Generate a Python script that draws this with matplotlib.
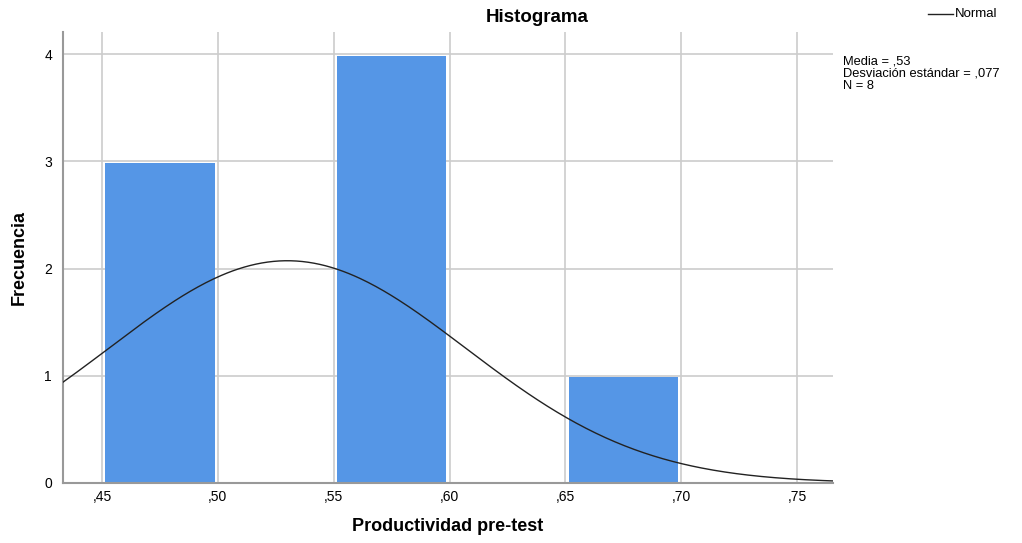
import numpy as np
import matplotlib
matplotlib.use("Agg")
import matplotlib.pyplot as plt

plt.rcParams['font.family'] = ['Liberation Sans', 'DejaVu Sans']

# Data
bin_edges = [0.45, 0.50, 0.55, 0.60, 0.65, 0.70]
counts = [3, 0, 4, 0, 1]
mean = 0.53
sd = 0.077
n = 8
x_ticks = [0.45, 0.50, 0.55, 0.60, 0.65, 0.70, 0.75]
x_tick_labels = [",45", ",50", ",55", ",60", ",65", ",70", ",75"]
y_ticks = [0, 1, 2, 3, 4]

fig = plt.figure(figsize=(10.22, 5.43), dpi=100)
ax = fig.add_axes([63/1022, 1-483/543, (833-63)/1022, (483-32)/543])

xmin, xmax = 0.4332, 0.7655
ax.set_xlim(xmin, xmax)
ax.set_ylim(0, (483-32)/107.25)

ax.set_axisbelow(True)
ax.grid(True, color='#cccccc', linewidth=1.2)

inset = 0.0014
lefts = bin_edges[:-1]
widths = np.diff(bin_edges)
for l, w, c in zip(lefts, widths, counts):
    if c > 0:
        ax.bar(l + inset, c - 0.015, width=w - 2*inset, align='edge',
               color='#5596e6', edgecolor='none', zorder=2)

binw = bin_edges[1] - bin_edges[0]
xs = np.linspace(xmin, xmax, 400)
ys = n * binw / (sd * np.sqrt(2*np.pi)) * np.exp(-0.5*((xs-mean)/sd)**2)
ax.plot(xs, ys, color='#222222', linewidth=1.0, zorder=3)

ax.set_xticks(x_ticks)
ax.set_xticklabels(x_tick_labels, fontsize=10)
ax.set_yticks(y_ticks)
ax.set_yticklabels([str(v) for v in y_ticks], fontsize=10)
ax.tick_params(axis='x', length=0, pad=5)
ax.tick_params(axis='y', length=0, pad=8)

for s in ['top', 'right']:
    ax.spines[s].set_visible(False)
for s in ['left', 'bottom']:
    ax.spines[s].set_color('#999999')
    ax.spines[s].set_linewidth(1.5)

ax.set_xlabel("Productividad pre-test", fontsize=13, fontweight='bold', labelpad=10)
ax.set_ylabel("Frecuencia", fontsize=13, fontweight='bold', labelpad=12)
fig.text(537/1022, 1-18/543, "Histograma", fontsize=13.5, fontweight='bold',
         ha='center', va='center')

# Legend
fig.add_artist(plt.Line2D([928/1022, 953/1022], [1-14/543, 1-14/543],
                          color='#222222', linewidth=1.0))
fig.text(955/1022, 1-14/543, "Normal", fontsize=9.5, va='center', ha='left')

fig.text(843/1022, 1-56/543,
         "Media = ,53\nDesviación estándar = ,077\nN = 8",
         fontsize=9.3, va='top', ha='left', linespacing=1.0)

fig.savefig("out.png", dpi=100)
